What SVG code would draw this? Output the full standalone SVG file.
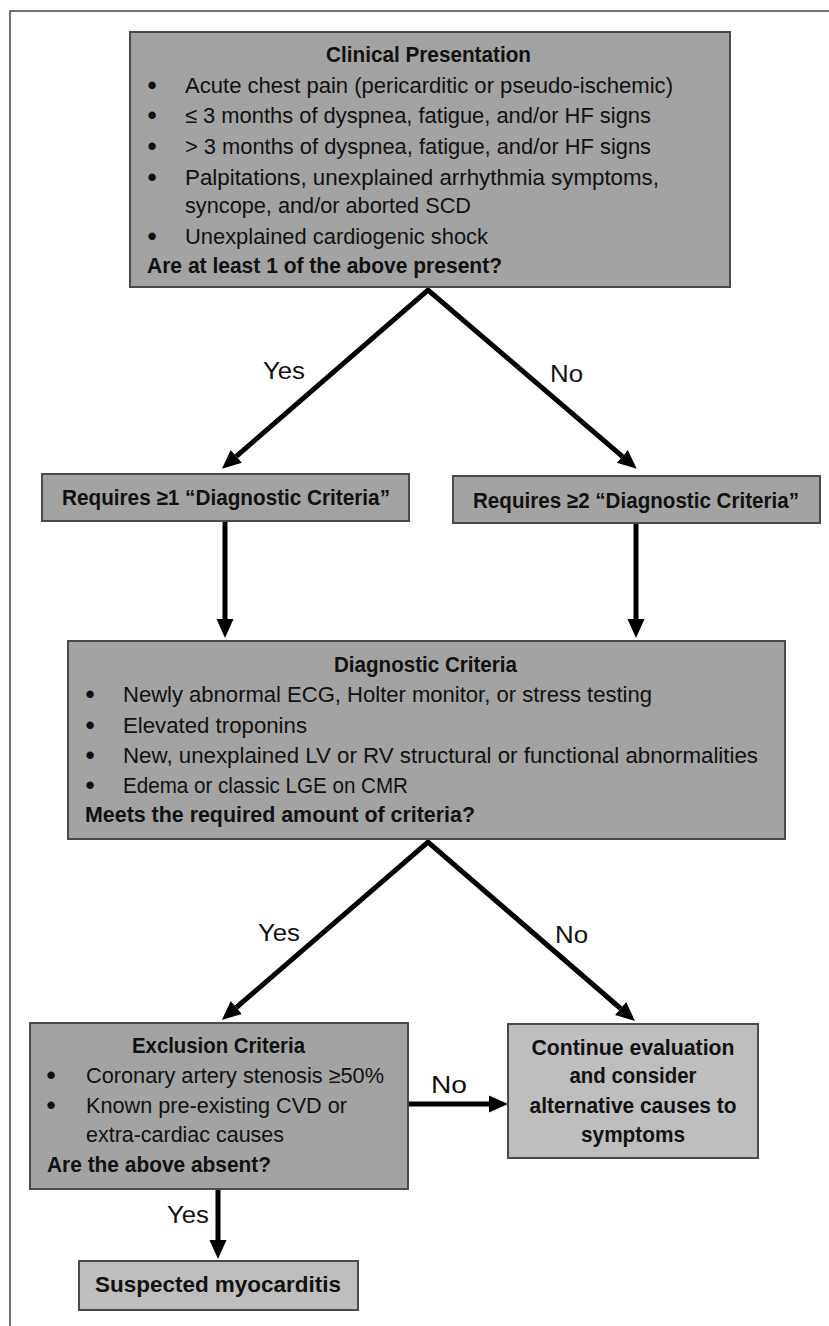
<svg xmlns="http://www.w3.org/2000/svg" width="829" height="1326" viewBox="0 0 829 1326">
<style>
.box{fill:#a3a3a3;stroke:#4a4a4a;stroke-width:2}
.lbox{fill:#bebebe;stroke:#4a4a4a;stroke-width:2}
text{font-family:"Liberation Sans",Arial,sans-serif;fill:#111;font-size:22px}
.b{font-weight:bold}
.c{text-anchor:middle}
.bul{font-size:26px;text-anchor:middle;font-weight:bold}
.lab{font-size:23px}
.con{fill:none;stroke:#000;stroke-width:5;stroke-linejoin:miter;marker-end:url(#ah)}
.split{marker-start:url(#ah)}
</style>
<defs>
<marker id="ah" viewBox="0 -10 20 20" markerWidth="20" markerHeight="20" refX="0" refY="0" orient="auto-start-reverse" markerUnits="userSpaceOnUse">
<path d="M0,-8.5 L19,0 L0,8.5 z" fill="#000"/>
</marker>
</defs>
<rect x="10" y="11" width="840" height="1330" fill="none" stroke="#444" stroke-width="1.5"/>

<g id="connectors">
<path class="con split" d="M236.3,456.4 L428,290 L622.3,456.4"/>
<path class="con" d="M225,521 L225,619"/>
<path class="con" d="M636,523 L636,619"/>
<path class="con split" d="M236.3,1007.5 L428,842 L620.6,1008.5"/>
<path class="con" d="M409,1104 L489,1104"/>
<path class="con" d="M218,1189 L218,1240"/>
<text class="lab" x="263" y="379" textLength="42" lengthAdjust="spacingAndGlyphs">Yes</text>
<text class="lab" x="550" y="382" textLength="33" lengthAdjust="spacingAndGlyphs">No</text>
<text class="lab" x="258" y="941" textLength="42" lengthAdjust="spacingAndGlyphs">Yes</text>
<text class="lab" x="555" y="943" textLength="33" lengthAdjust="spacingAndGlyphs">No</text>
<text class="lab" x="431" y="1093" textLength="36" lengthAdjust="spacingAndGlyphs">No</text>
<text class="lab" x="167" y="1223" textLength="42" lengthAdjust="spacingAndGlyphs">Yes</text>
</g>

<g id="clinical-presentation">
<rect class="box" x="130" y="32" width="600" height="255"/>
<text class="b c" x="428.5" y="62" textLength="205" lengthAdjust="spacingAndGlyphs">Clinical Presentation</text>
<text class="bul" x="152" y="94">•</text>
<text x="185" y="93" textLength="488" lengthAdjust="spacingAndGlyphs">Acute chest pain (pericarditic or pseudo-ischemic)</text>
<text class="bul" x="152" y="124">•</text>
<text x="185" y="123" textLength="466" lengthAdjust="spacingAndGlyphs">≤ 3 months of dyspnea, fatigue, and/or HF signs</text>
<text class="bul" x="152" y="155">•</text>
<text x="185" y="154" textLength="466" lengthAdjust="spacingAndGlyphs">&gt; 3 months of dyspnea, fatigue, and/or HF signs</text>
<text class="bul" x="152" y="186">•</text>
<text x="185" y="185" textLength="474" lengthAdjust="spacingAndGlyphs">Palpitations, unexplained arrhythmia symptoms,</text>
<text x="185" y="213" textLength="286" lengthAdjust="spacingAndGlyphs">syncope, and/or aborted SCD</text>
<text class="bul" x="152" y="245">•</text>
<text x="185" y="244" textLength="303" lengthAdjust="spacingAndGlyphs">Unexplained cardiogenic shock</text>
<text class="b" x="147" y="273" textLength="355" lengthAdjust="spacingAndGlyphs">Are at least 1 of the above present?</text>
</g>

<g id="requires-1">
<rect class="box" x="42" y="474" width="367" height="47"/>
<text class="b c" x="226" y="505" textLength="328" lengthAdjust="spacingAndGlyphs">Requires ≥1 “Diagnostic Criteria”</text>
</g>

<g id="requires-2">
<rect class="box" x="453" y="476" width="367" height="47"/>
<text class="b c" x="636" y="508" textLength="326" lengthAdjust="spacingAndGlyphs">Requires ≥2 “Diagnostic Criteria”</text>
</g>

<g id="diagnostic-criteria">
<rect class="box" x="68" y="641" width="717" height="198"/>
<text class="b c" x="425.5" y="672" textLength="183" lengthAdjust="spacingAndGlyphs">Diagnostic Criteria</text>
<text class="bul" x="90" y="703">•</text>
<text x="123" y="702" textLength="529" lengthAdjust="spacingAndGlyphs">Newly abnormal ECG, Holter monitor, or stress testing</text>
<text class="bul" x="90" y="734">•</text>
<text x="123" y="733" textLength="184" lengthAdjust="spacingAndGlyphs">Elevated troponins</text>
<text class="bul" x="90" y="764">•</text>
<text x="123" y="763" textLength="635" lengthAdjust="spacingAndGlyphs">New, unexplained LV or RV structural or functional abnormalities</text>
<text class="bul" x="90" y="794">•</text>
<text x="123" y="793" textLength="285" lengthAdjust="spacingAndGlyphs">Edema or classic LGE on CMR</text>
<text class="b" x="85" y="822" textLength="390" lengthAdjust="spacingAndGlyphs">Meets the required amount of criteria?</text>
</g>

<g id="exclusion-criteria">
<rect class="box" x="30" y="1023" width="378" height="166"/>
<text class="b c" x="218.5" y="1053" textLength="173" lengthAdjust="spacingAndGlyphs">Exclusion Criteria</text>
<text class="bul" x="51" y="1084">•</text>
<text x="86" y="1083" textLength="298" lengthAdjust="spacingAndGlyphs">Coronary artery stenosis ≥50%</text>
<text class="bul" x="51" y="1114">•</text>
<text x="86" y="1113" textLength="261" lengthAdjust="spacingAndGlyphs">Known pre-existing CVD or</text>
<text x="86" y="1142" textLength="198" lengthAdjust="spacingAndGlyphs">extra-cardiac causes</text>
<text class="b" x="47" y="1172" textLength="224" lengthAdjust="spacingAndGlyphs">Are the above absent?</text>
</g>

<g id="continue-evaluation">
<rect class="lbox" x="508" y="1024" width="250" height="134"/>
<text class="b c" x="633" y="1055" textLength="203" lengthAdjust="spacingAndGlyphs">Continue evaluation</text>
<text class="b c" x="633" y="1083" textLength="127" lengthAdjust="spacingAndGlyphs">and consider</text>
<text class="b c" x="633" y="1113" textLength="207" lengthAdjust="spacingAndGlyphs">alternative causes to</text>
<text class="b c" x="633" y="1142" textLength="104" lengthAdjust="spacingAndGlyphs">symptoms</text>
</g>

<g id="suspected-myocarditis">
<rect class="lbox" x="79" y="1261" width="279" height="49"/>
<text class="b c" x="218" y="1292" textLength="246" lengthAdjust="spacingAndGlyphs">Suspected myocarditis</text>
</g>
</svg>
